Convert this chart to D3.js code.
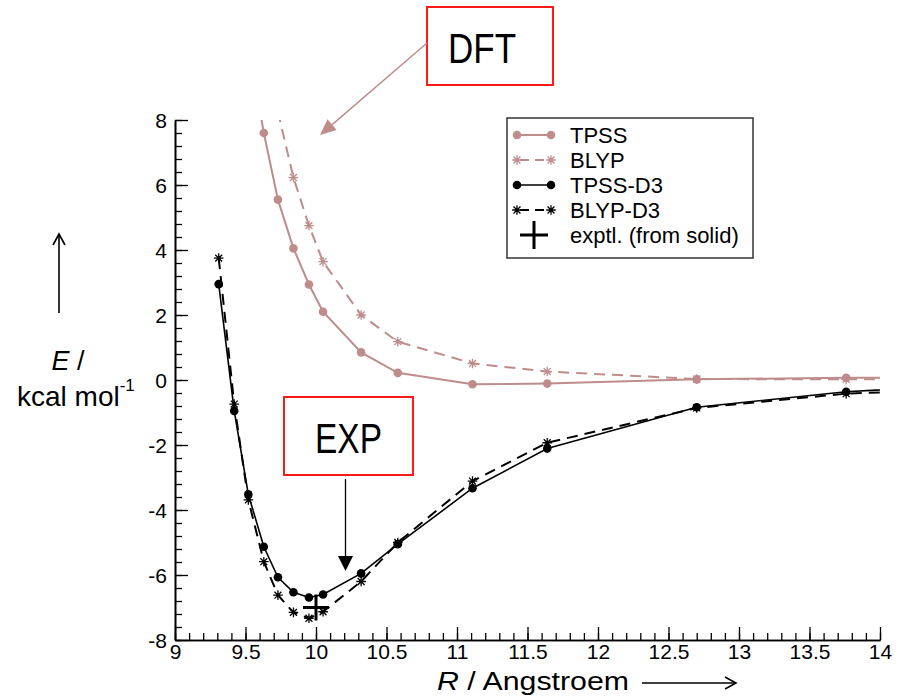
<!DOCTYPE html>
<html>
<head>
<meta charset="utf-8">
<script src="https://cdn.jsdelivr.net/npm/d3@7"></script>
<style>
html,body{margin:0;padding:0;background:#fff;}
svg{display:block;}
text{font-family:"Liberation Sans",Arial,Helvetica,sans-serif;}
</style>
</head>
<body>
<svg id="chart" width="910" height="697"></svg>
<script>
// ---- data ----
const R = [9.31, 9.42, 9.52, 9.63, 9.73, 9.84, 9.95, 10.05, 10.32, 10.58, 11.11, 11.64, 12.70, 13.76, 14.81];
const TPSS    = [null, null, 10.3, 7.6, 5.55, 4.05, 2.94, 2.10, 0.85, 0.22, -0.13, -0.11, 0.02, 0.07, 0.06];
const BLYP    = [null, null, null, 11.0, 8.25, 6.23, 4.75, 3.64, 2.00, 1.18, 0.51, 0.26, 0.03, 0.02, 0.05];
const TPSS_D3 = [2.95, -0.95, -3.52, -5.13, -6.07, -6.53, -6.69, -6.60, -5.95, -5.05, -3.33, -2.11, -0.84, -0.36, -0.12];
const BLYP_D3 = [3.75, -0.74, -3.69, -5.59, -6.62, -7.15, -7.33, -7.13, -6.20, -5.00, -3.11, -1.93, -0.86, -0.42, -0.25];
const exptR = [10.0];
const exptE = [-7.0];
const seriesNames = ["TPSS", "BLYP", "TPSS-D3", "BLYP-D3"];
const exptName = "exptl. (from solid)";
const xTicks = [9, 9.5, 10, 10.5, 11, 11.5, 12, 12.5, 13, 13.5, 14];
const xTickLabels = ["9", "9.5", "10", "10.5", "11", "11.5", "12", "12.5", "13", "13.5", "14"];
const yTicks = [-8, -6, -4, -2, 0, 2, 4, 6, 8];
const yTickLabels = ["-8", "-6", "-4", "-2", "0", "2", "4", "6", "8"];

// ---- styles ----
const ROSY = "#bf8c8c";
const seriesStyle = [
  {values: TPSS,    color: ROSY,   dash: null,  marker: "circle", width: 2},
  {values: BLYP,    color: ROSY,   dash: "11,7", marker: "star",  width: 2},
  {values: TPSS_D3, color: "#000", dash: null,  marker: "circle", width: 1.6},
  {values: BLYP_D3, color: "#000", dash: "11,7", marker: "star",  width: 2}
];

const svg = d3.select("#chart");
const x = d3.scaleLinear().domain([9, 14]).range([175, 880]);
const y = d3.scaleLinear().domain([-8, 8]).range([640, 120]);

svg.append("defs").append("clipPath").attr("id", "plotclip")
  .append("rect").attr("x", x(9)).attr("y", y(8)).attr("width", x(14) - x(9)).attr("height", y(-8) - y(8));

function starPath(cx, cy, s) {
  const d = s * 0.72;
  return `M${cx - s},${cy}L${cx + s},${cy}M${cx},${cy - s}L${cx},${cy + s}` +
         `M${cx - d},${cy - d}L${cx + d},${cy + d}M${cx - d},${cy + d}L${cx + d},${cy - d}`;
}
function drawMarker(g, type, cx, cy, color) {
  if (type === "circle") {
    g.append("circle").attr("cx", cx).attr("cy", cy).attr("r", 4.3).attr("fill", color);
  } else {
    g.append("path").attr("d", starPath(cx, cy, 4.8)).attr("stroke", color).attr("stroke-width", 1.3).attr("fill", "none");
  }
}

// ---- axes ----
const minorX = d3.range(9, 14.0001, 0.1).map(v => +v.toFixed(2));
const minorY = d3.range(-8, 8.0001, 0.4).map(v => +v.toFixed(2));

const gx = svg.append("g").attr("transform", `translate(0,${y(-8)})`);
gx.call(d3.axisBottom(x).tickValues(minorX).tickSize(-7).tickSizeOuter(0).tickFormat(""));
const gx2 = svg.append("g").attr("transform", `translate(0,${y(-8)})`);
gx2.call(d3.axisBottom(x).tickValues(xTicks).tickSize(-13).tickSizeOuter(0).tickPadding(4)
  .tickFormat((d, i) => xTickLabels[i]));
const gy = svg.append("g").attr("transform", `translate(${x(9)},0)`);
gy.call(d3.axisLeft(y).tickValues(minorY).tickSize(-7).tickSizeOuter(0).tickFormat(""));
const gy2 = svg.append("g").attr("transform", `translate(${x(9)},0)`);
gy2.call(d3.axisLeft(y).tickValues(yTicks).tickSize(-13).tickSizeOuter(0).tickPadding(8)
  .tickFormat((d, i) => yTickLabels[i]));
svg.selectAll(".domain").attr("stroke", "#000").attr("stroke-width", 1.6);
svg.selectAll(".tick line").attr("stroke", "#000").attr("stroke-width", 1.3);
svg.selectAll(".tick text").attr("font-size", 21).attr("fill", "#000")
  .attr("font-family", "Liberation Sans, Arial, sans-serif");
gx2.selectAll(".tick text").attr("dy", "0.72em");
gy2.selectAll(".tick text").attr("dy", "0.36em");

// ---- series ----
const plot = svg.append("g").attr("clip-path", "url(#plotclip)");
seriesStyle.forEach(s => {
  const pts = R.map((r, i) => ({r, e: s.values[i]})).filter(p => p.e !== null);
  const line = d3.line().x(p => x(p.r)).y(p => y(p.e));
  plot.append("path").datum(pts).attr("d", line).attr("fill", "none")
    .attr("stroke", s.color).attr("stroke-width", s.width)
    .attr("stroke-dasharray", s.dash);
  const mg = plot.append("g");
  pts.forEach(p => drawMarker(mg, s.marker, x(p.r), y(p.e), s.color));
});
// experimental cross
exptR.forEach((r, i) => {
  const cx = x(r), cy = y(exptE[i]);
  plot.append("path").attr("d", `M${cx - 13},${cy}L${cx + 13},${cy}M${cx},${cy - 13}L${cx},${cy + 13}`)
    .attr("stroke", "#000").attr("stroke-width", 3);
});

// ---- legend ----
const lg = svg.append("g");
lg.append("rect").attr("x", 507).attr("y", 118).attr("width", 246).attr("height", 140)
  .attr("fill", "#fff").attr("stroke", "#333").attr("stroke-width", 1.5);
seriesStyle.forEach((s, i) => {
  const ly = 135 + i * 25;
  lg.append("line").attr("x1", 517).attr("x2", 551).attr("y1", ly).attr("y2", ly)
    .attr("stroke", s.color).attr("stroke-width", s.width).attr("stroke-dasharray", s.dash ? "9,6" : null)
    .attr("stroke-dashoffset", s.dash ? -3 : 0);
  drawMarker(lg, s.marker, 517, ly, s.color);
  drawMarker(lg, s.marker, 551, ly, s.color);
  lg.append("text").attr("x", 570).attr("y", ly + 8).attr("font-size", 22).text(seriesNames[i]);
});
{
  const ly = 135 + 4 * 25;
  lg.append("path").attr("d", `M${534 - 14},${ly}L${534 + 14},${ly}M534,${ly - 14}L534,${ly + 14}`)
    .attr("stroke", "#000").attr("stroke-width", 3);
  lg.append("text").attr("x", 570).attr("y", ly + 8).attr("font-size", 22).text(exptName);
}

// ---- axis titles ----
const xt = svg.append("text").attr("x", 437).attr("y", 690).attr("font-size", 25)
  .attr("textLength", 192).attr("lengthAdjust", "spacingAndGlyphs");
xt.append("tspan").attr("font-style", "italic").text("R");
xt.append("tspan").text(" / Angstroem");
svg.append("line").attr("x1", 642).attr("x2", 735).attr("y1", 683).attr("y2", 683).attr("stroke", "#000").attr("stroke-width", 1.6);
svg.append("path").attr("d", "M725,677L736,683L725,689").attr("fill", "none").attr("stroke", "#000").attr("stroke-width", 1.6);

const yt1 = svg.append("text").attr("x", 68).attr("y", 370).attr("font-size", 27).attr("text-anchor", "middle");
yt1.append("tspan").attr("font-style", "italic").text("E");
yt1.append("tspan").text(" /");
const yt2 = svg.append("text").attr("x", 17).attr("y", 406).attr("font-size", 28);
yt2.append("tspan").text("kcal mol");
yt2.append("tspan").attr("font-size", 17).attr("dy", -15).text("-1");
svg.append("line").attr("x1", 59).attr("x2", 59).attr("y1", 313).attr("y2", 235).attr("stroke", "#000").attr("stroke-width", 1.6);
svg.append("path").attr("d", "M53,245L59,234L65,245").attr("fill", "none").attr("stroke", "#000").attr("stroke-width", 1.6);

// ---- annotations ----
svg.append("rect").attr("x", 427).attr("y", 7).attr("width", 126).attr("height", 78)
  .attr("fill", "#fff").attr("stroke", "#ff1a1a").attr("stroke-width", 2);
svg.append("text").attr("x", 448).attr("y", 63).attr("font-size", 43)
  .attr("textLength", 68).attr("lengthAdjust", "spacingAndGlyphs")
  .attr("font-family", "Lato, 'Open Sans', sans-serif").attr("fill", "#000").text("DFT");
// DFT arrow
{
  const x1 = 427, y1 = 43, x2 = 320, y2 = 135;
  const ang = Math.atan2(y2 - y1, x2 - x1);
  const L = 16, W = 7;
  const bx = x2 - L * Math.cos(ang), by = y2 - L * Math.sin(ang);
  svg.append("line").attr("x1", x1).attr("y1", y1).attr("x2", bx).attr("y2", by)
    .attr("stroke", ROSY).attr("stroke-width", 1.5);
  svg.append("path").attr("d",
    `M${x2},${y2}L${bx - W * Math.sin(ang)},${by + W * Math.cos(ang)}L${bx + W * Math.sin(ang)},${by - W * Math.cos(ang)}Z`)
    .attr("fill", ROSY);
}
svg.append("rect").attr("x", 284).attr("y", 397).attr("width", 129).attr("height", 78)
  .attr("fill", "#fff").attr("stroke", "#ff1a1a").attr("stroke-width", 2);
svg.append("text").attr("x", 315).attr("y", 453).attr("font-size", 42)
  .attr("textLength", 67).attr("lengthAdjust", "spacingAndGlyphs")
  .attr("font-family", "Lato, 'Open Sans', sans-serif").attr("fill", "#000").text("EXP");
// EXP arrow
svg.append("line").attr("x1", 345.5).attr("x2", 345.5).attr("y1", 479).attr("y2", 558).attr("stroke", "#000").attr("stroke-width", 1.3);
svg.append("path").attr("d", "M345.5,571L338,556L353,556Z").attr("fill", "#000");
</script>
</body>
</html>
